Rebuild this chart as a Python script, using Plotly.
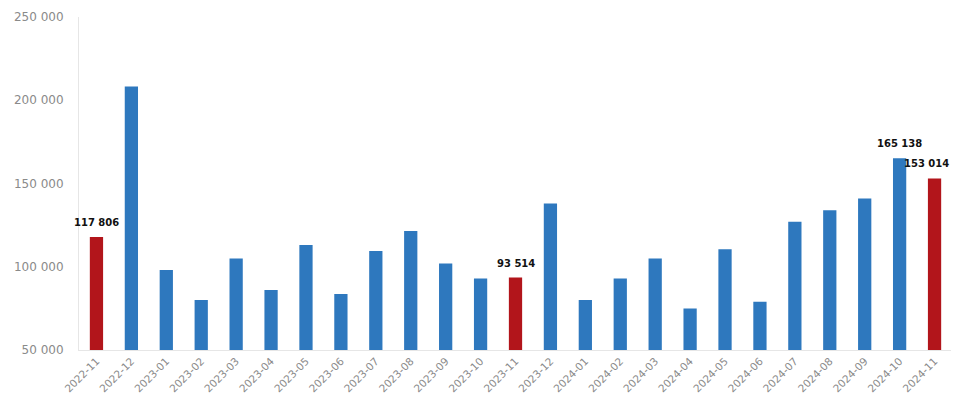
import plotly.graph_objects as go

categories = ["2022-11", "2022-12", "2023-01", "2023-02", "2023-03", "2023-04", "2023-05",
              "2023-06", "2023-07", "2023-08", "2023-09", "2023-10", "2023-11", "2023-12",
              "2024-01", "2024-02", "2024-03", "2024-04", "2024-05", "2024-06", "2024-07",
              "2024-08", "2024-09", "2024-10", "2024-11"]
values = [117806, 208300, 98000, 80000, 105000, 86000, 113000, 83600, 109500, 121500,
          102000, 93000, 93514, 138000, 80000, 93000, 105000, 75000, 110500, 79000,
          127000, 134000, 141000, 165138, 153014]
highlight = ["2022-11", "2023-11", "2024-11"]
labelled = ["2022-11", "2023-11", "2024-10", "2024-11"]
y_ticks = [50000, 100000, 150000, 200000, 250000]

BLUE = "#2E78BE"
RED = "#B2151B"
colors = [RED if c in highlight else BLUE for c in categories]

fig = go.Figure(go.Bar(x=categories, y=values, marker_color=colors,
                       marker_line_width=0, width=0.38))

for c, v in zip(categories, values):
    if c in labelled:
        fig.add_annotation(x=c, y=v, text=f"<b>{v:,}</b>".replace(",", " "), showarrow=False,
                           yanchor="bottom", yshift=7,
                           xshift=-8 if c == categories[-1] else 0,
                           font=dict(family="DejaVu Sans", size=10, color="#111"))

# page body has an 8px default margin, so the figure is sized to fit the 959x403 window
fig.update_layout(
    width=951, height=395,
    margin=dict(l=71, r=7, t=9, b=53),
    plot_bgcolor="white", paper_bgcolor="white",
    separators=", ",
    showlegend=False,
)
fig.update_xaxes(type="category", tickangle=-45, showgrid=False, showline=True,
                 range=[-0.5, len(categories) - 0.5],
                 linecolor="#E6E6E6", linewidth=1, ticks="", automargin=False,
                 tickfont=dict(family="DejaVu Sans", size=10.5, color="#8A8A8A"))
fig.update_yaxes(range=[50000, 250000], tickvals=y_ticks, tickformat=",d", showgrid=False,
                 showline=True, linecolor="#E6E6E6", linewidth=1, ticks="", zeroline=False,
                 automargin=False,
                 tickfont=dict(family="DejaVu Sans", size=12, color="#8A8A8A"),
                 ticklabelstandoff=12)

fig.write_html("out.html")
